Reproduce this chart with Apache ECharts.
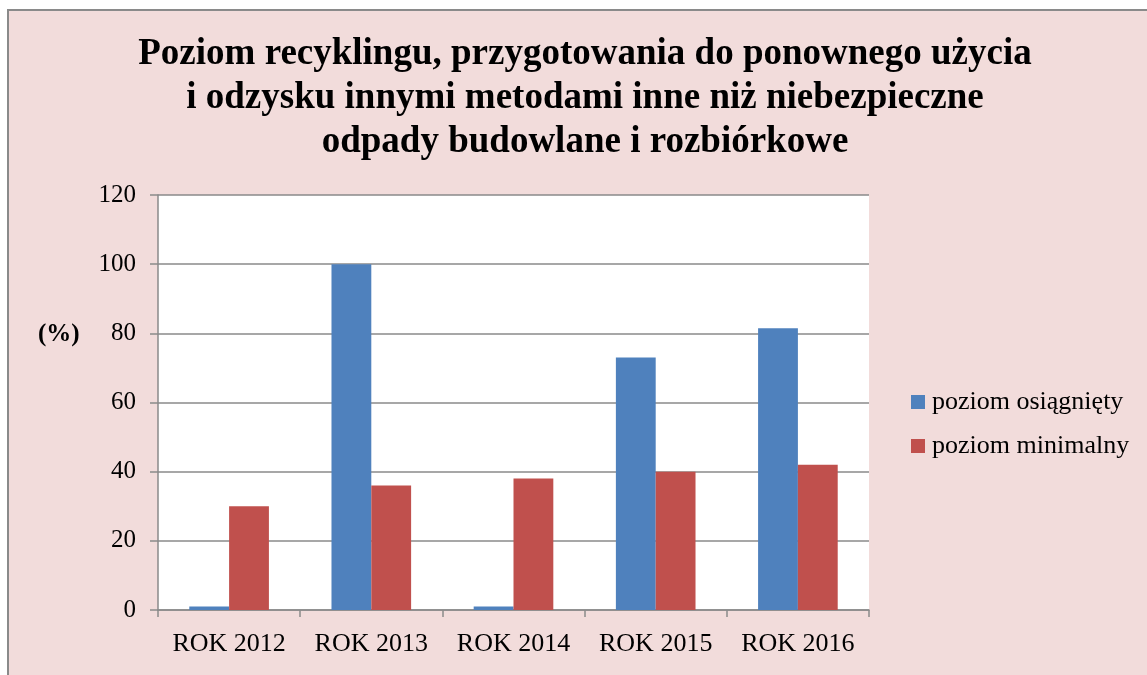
<!DOCTYPE html>
<html>
<head>
<meta charset="utf-8">
<script src="https://cdn.jsdelivr.net/npm/echarts@6/dist/echarts.min.js"></script>
<style>
  html, body { margin: 0; padding: 0; background: #fff; overflow: hidden; }
  .frame {
    position: absolute;
    left: 7px;
    top: 9px;
    width: 1150px;
    height: 680px;
    border: 2px solid #8a8a8a;
    background: #f2dcdb;
  }
  #chart { width: 1150px; height: 680px; }
</style>
</head>
<body>
<div class="frame"><div id="chart"></div></div>
<script>
const titleText = 'Poziom recyklingu, przygotowania do ponownego użycia\ni odzysku innymi metodami inne niż niebezpieczne\nodpady budowlane i rozbiórkowe'
const years = ['ROK 2012', 'ROK 2013', 'ROK 2014', 'ROK 2015', 'ROK 2016']
const achieved = [1, 100, 1, 73, 81.5]
const minimal = [30, 36, 38, 40, 42]
const seriesNames = ['poziom osiągnięty', 'poziom minimalny']
const unitLabel = '(%)'

const serif = '"Liberation Serif", "DejaVu Serif", serif'
const chart = echarts.init(document.getElementById('chart'))

const option = {
  backgroundColor: 'transparent',
  color: ['#4f81bd', '#c0504d'],
  title: {
    text: titleText,
    left: 571,
    textAlign: 'center',
    top: 16,
    textStyle: {
      fontFamily: serif,
      fontSize: 37,
      fontWeight: 'bold',
      color: '#000',
      lineHeight: 44
    }
  },
  graphic: [
    {
      type: 'text',
      left: 29,
      top: 311,
      style: {
        text: unitLabel,
        font: 'bold 25px ' + serif,
        fill: '#000'
      }
    }
  ],
  legend: {
    orient: 'vertical',
    left: 897,
    top: 373,
    itemWidth: 14,
    itemHeight: 14,
    itemGap: 18,
    icon: 'rect',
    textStyle: {
      fontFamily: serif,
      fontSize: 26,
      color: '#000',
      padding: [0, 0, 0, 2]
    },
    data: seriesNames
  },
  grid: {
    left: 149,
    top: 184,
    width: 711,
    height: 415,
    show: true,
    backgroundColor: '#fff',
    borderWidth: 0
  },
  xAxis: {
    type: 'category',
    data: years,
    axisLine: { lineStyle: { color: '#8a8a8a', width: 1.5 } },
    axisTick: { show: true, length: 7, lineStyle: { color: '#8a8a8a', width: 1.5 } },
    axisLabel: {
      interval: 0,
      fontFamily: serif,
      fontSize: 26,
      color: '#000',
      margin: 21
    }
  },
  yAxis: {
    type: 'value',
    min: 0,
    max: 120,
    interval: 20,
    axisLine: { show: true, lineStyle: { color: '#8a8a8a', width: 1.5 } },
    axisTick: { show: true, length: 8, lineStyle: { color: '#8a8a8a', width: 1.5 } },
    axisLabel: {
      fontFamily: serif,
      fontSize: 25,
      color: '#000',
      margin: 22
    },
    splitLine: { lineStyle: { color: '#8a8a8a', width: 1.5 } }
  },
  series: [
    {
      name: seriesNames[0],
      type: 'bar',
      data: achieved,
      barGap: '0%',
      barCategoryGap: '44%'
    },
    {
      name: seriesNames[1],
      type: 'bar',
      data: minimal,
      barGap: '0%',
      barCategoryGap: '44%'
    }
  ]
}
chart.setOption(option)
</script>
</body>
</html>
